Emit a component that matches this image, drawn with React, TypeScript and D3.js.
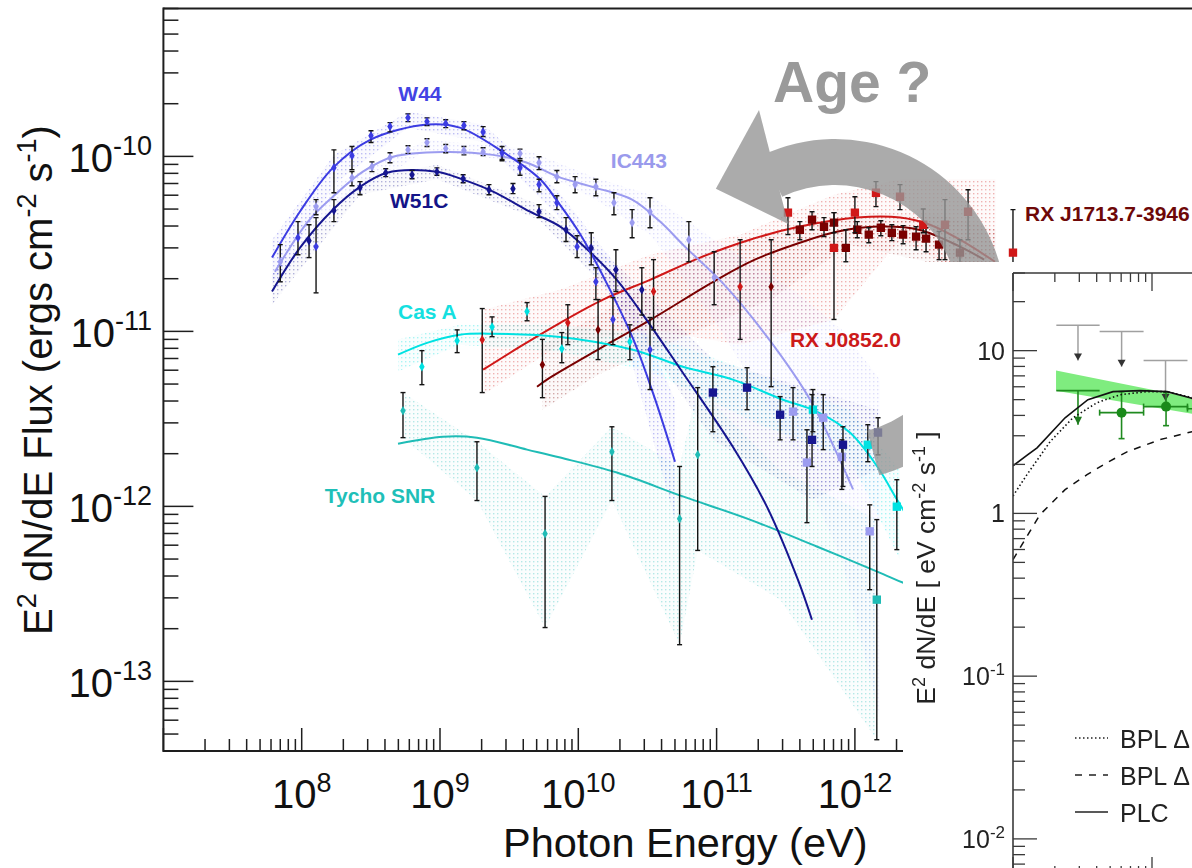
import React from "react";
import * as d3 from "d3";

// ---------- types ----------
type Pt = [number, number, number, number]; // energy (eV), E²dN/dE, lower, upper
type Band = [number, number, number]; // energy, lower, upper
type XY = [number, number];

// ---------- main panel: fitted models ----------
const w44Model: XY[] = [
  [6.1e7, 2.64e-11], [9.7e7, 4.83e-11], [1.68e8, 8.6e-11], [3.1e8, 1.24e-10],
  [8.1e8, 1.52e-10], [1.39e9, 1.46e-10], [2.85e9, 1.06e-10], [5.3e9, 7.4e-11],
  [7.1e9, 5.5e-11], [1.03e10, 3.6e-11], [1.56e10, 1.97e-11], [2.5e10, 9.0e-12],
  [3.6e10, 4.07e-12], [5.0e10, 1.8e-12],
];
const ic443Model: XY[] = [
  [6.4e7, 2.19e-11], [1.11e8, 4.24e-11], [1.68e8, 5.88e-11], [2.77e8, 8.18e-11],
  [4.57e8, 9.96e-11], [1.05e9, 1.06e-10], [2.42e9, 1.02e-10], [4.26e9, 9.2e-11],
  [7.1e9, 7.66e-11], [1.32e10, 6.63e-11], [2.45e10, 5.66e-11], [3.9e10, 4.24e-11],
  [5.9e10, 3.05e-11], [1.1e11, 1.9e-11], [2.32e11, 9.3e-12], [4.74e11, 4.07e-12],
  [9.7e11, 1.25e-12],
];
const w51cModel: XY[] = [
  [6.1e7, 1.69e-11], [9.7e7, 3.0e-11], [1.68e8, 4.96e-11], [2.64e8, 6.7e-11],
  [4.14e8, 8.07e-11], [9.5e8, 8.18e-11], [1.47e9, 7.36e-11], [2.42e9, 6.29e-11],
  [4.48e9, 4.83e-11], [7.4e9, 3.97e-11], [1.21e10, 2.85e-11], [1.9e10, 1.97e-11],
  [3.3e10, 1.09e-11], [5.7e10, 5.8e-12], [1.31e11, 2.19e-12], [2.31e11, 9.96e-13],
  [3.87e11, 3.81e-13], [4.89e11, 2.25e-13],
];
const casAModel: XY[] = [
  [4.97e8, 7.36e-12], [8.05e8, 8.6e-12], [1.39e9, 9.57e-12], [2.42e9, 9.7e-12],
  [7.4e9, 9.3e-12], [2.48e10, 7.86e-12], [5.7e10, 6.28e-12], [1.31e11, 5.3e-12],
  [3.02e11, 4.07e-12], [5.3e11, 3.48e-12], [9.2e11, 2.64e-12], [1.45e12, 1.69e-12],
  [2.02e12, 1.09e-12], [2.72e12, 7.4e-13],
];
const tychoModel: XY[] = [
  [4.97e8, 2.28e-12], [1.05e9, 2.5e-12], [1.85e9, 2.47e-12], [4.26e9, 2.11e-12],
  [7.4e9, 1.9e-12], [1.9e10, 1.56e-12], [5.7e10, 1.14e-12], [1.74e11, 8.4e-13],
  [5.3e11, 5.9e-13], [1.6e12, 4.1e-13], [2.24e12, 3.66e-13], [3.5e12, 3.3e-13],
];
const rxj0852Model: XY[] = [
  [2.05e9, 6.04e-12], [3.79e9, 8.18e-12], [7.4e9, 1.12e-11], [1.51e10, 1.52e-11],
  [3.3e10, 1.97e-11], [7.6e10, 2.64e-11], [1.74e11, 3.34e-11], [4.0e11, 3.97e-11],
  [1.04e12, 4.47e-11], [2.12e12, 4.47e-11], [3.49e12, 4.07e-11], [5.75e12, 3.34e-11],
  [1.03e13, 2.5e-11],
];
const rxj1713Model: XY[] = [
  [5.03e9, 4.83e-12], [6.24e9, 5.44e-12], [1.44e10, 8.0e-12], [3.3e10, 1.16e-11],
  [1.0e11, 1.97e-11], [1.89e11, 2.57e-11], [4.0e11, 3.21e-11], [7.4e11, 3.71e-11],
  [1.47e12, 3.97e-11], [2.9e12, 3.81e-11], [5.75e12, 3.05e-11], [8.6e12, 2.57e-11],
];

// ---------- main panel: uncertainty bands ----------
const w44Band: Band[] = [
  [6.1e7, 1.85e-11, 3.34e-11], [1.71e8, 6.9e-11, 1.02e-10], [5.87e8, 1.46e-10, 1.8e-10],
  [2.05e9, 1.21e-10, 1.52e-10], [7.0e9, 4.64e-11, 6.45e-11], [1.87e10, 1.42e-11, 2.4e-11],
  [5.0e10, 8.4e-13, 4.07e-12],
];
const ic443Band: Band[] = [
  [6.4e7, 1.73e-11, 2.74e-11], [1.71e8, 4.96e-11, 6.9e-11], [8.05e8, 1.09e-10, 1.24e-10],
  [3.79e9, 9.3e-11, 1.12e-10], [1.34e10, 5.66e-11, 7.55e-11], [3.3e10, 3.57e-11, 6.04e-11],
  [9.6e10, 1.17e-11, 3.34e-11], [3.57e11, 2.11e-12, 1.73e-11], [8.05e11, 4.96e-13, 1.02e-11],
  [1.52e12, 6.0e-14, 5.3e-12],
];
const w51cBand: Band[] = [
  [6.1e7, 1.42e-11, 2.11e-11], [2.64e8, 6.04e-11, 7.4e-11], [9.5e8, 7.4e-11, 8.97e-11],
  [5.2e9, 4.35e-11, 5.3e-11], [1.9e10, 1.52e-11, 2.4e-11], [9.4e10, 2.4e-12, 6.9e-12],
  [4.9e11, 1.09e-12, 4.65e-12], [1.47e12, 1.62e-12, 3.57e-12],
];
const casABand: Band[] = [
  [4.97e8, 5.9e-12, 9.0e-12], [1.39e9, 8.4e-12, 1.09e-11], [7.4e9, 7.66e-12, 1.09e-11],
  [3.3e10, 5.9e-12, 9.57e-12], [2.06e11, 2.93e-12, 5.66e-12], [9.2e11, 1.85e-12, 3.57e-12],
  [2.12e12, 4.96e-13, 1.62e-12],
];
const tychoBand: Band[] = [
  [5.4e8, 2.47e-12, 4.47e-12], [1.85e9, 1.08e-12, 2.34e-12], [5.75e9, 2.03e-13, 1.14e-12],
  [1.75e10, 1.08e-12, 2.85e-12], [5.4e10, 1.62e-13, 1.69e-12], [7.3e10, 5.6e-13, 4.77e-12],
  [2.88e11, 2.93e-13, 1.62e-12], [1.44e12, 4.64e-14, 8.4e-13],
];
const rxj0852Band: Band[] = [
  [2.05e9, 4.35e-12, 1.33e-11], [7.4e9, 8.4e-12, 1.73e-11], [3.3e10, 1.02e-11, 2.74e-11],
  [1.48e11, 8.4e-12, 3.57e-11], [7.06e11, 1.17e-11, 6.04e-11], [2.12e12, 3.34e-11, 7.4e-11],
  [1.04e13, 1.73e-11, 7.4e-11],
];
const rxj1713Band: Band[] = [
  [5.5e9, 3.57e-12, 8.4e-12], [1.39e10, 5.66e-12, 1.24e-11], [7.6e10, 1.02e-11, 2.74e-11],
  [2.48e11, 1.52e-11, 3.72e-11], [9.2e11, 3.13e-11, 4.64e-11], [4.1e12, 2.4e-11, 4.64e-11],
  [1.04e13, 1.52e-11, 3.81e-11],
];

// ---------- main panel: Fermi-LAT points ----------
const w44Points: Pt[] = [
  [9.4e7, 3.43e-11, 2.74e-11, 4.24e-11], [1.27e8, 3.05e-11, 1.66e-11, 4.47e-11],
  [1.71e8, 8.6e-11, 6.2e-11, 1.09e-10], [2.31e8, 1.01e-10, 8.4e-11, 1.14e-10],
  [3.17e8, 1.31e-10, 1.2e-10, 1.4e-10], [4.35e8, 1.48e-10, 1.38e-10, 1.56e-10],
  [5.87e8, 1.66e-10, 1.58e-10, 1.75e-10], [8.05e8, 1.58e-10, 1.5e-10, 1.66e-10],
  [1.1e9, 1.54e-10, 1.46e-10, 1.62e-10], [1.49e9, 1.5e-10, 1.42e-10, 1.58e-10],
  [2.05e9, 1.38e-10, 1.3e-10, 1.48e-10], [2.81e9, 1.05e-10, 9.6e-11, 1.14e-10],
  [3.79e9, 8.6e-11, 7.8e-11, 9.45e-11], [5.2e9, 6.9e-11, 6.28e-11, 7.4e-11],
  [7.0e9, 5.43e-11, 4.96e-11, 5.96e-11], [9.8e9, 3.05e-11, 2.64e-11, 3.52e-11],
  [1.34e10, 1.92e-11, 1.52e-11, 2.31e-11], [1.78e10, 1.17e-11, 8.4e-12, 1.56e-11],
  [3.3e10, 7.86e-12, 4.65e-12, 1.2e-11],
];
const ic443Points: Pt[] = [
  [7.0e7, 2.5e-11, 1.92e-11, 3.13e-11], [1.27e8, 5.16e-11, 4.64e-11, 5.66e-11],
  [2.31e8, 7.55e-11, 6.8e-11, 8.2e-11], [3.22e8, 8.73e-11, 8.18e-11, 9.3e-11],
  [4.35e8, 9.83e-11, 9.2e-11, 1.05e-10], [5.87e8, 1.09e-10, 1.04e-10, 1.15e-10],
  [8.05e8, 1.2e-10, 1.14e-10, 1.26e-10], [1.1e9, 1.11e-10, 1.05e-10, 1.17e-10],
  [1.49e9, 1.08e-10, 1.02e-10, 1.14e-10], [2.05e9, 1.06e-10, 1.01e-10, 1.12e-10],
  [2.81e9, 1.01e-10, 9.45e-11, 1.08e-10], [3.79e9, 1.04e-10, 9.7e-11, 1.1e-10],
  [5.2e9, 9.2e-11, 8.4e-11, 9.96e-11], [7.0e9, 7.66e-11, 7.07e-11, 8.3e-11],
  [9.48e9, 6.9e-11, 6.2e-11, 7.66e-11], [1.34e10, 6.7e-11, 5.96e-11, 7.4e-11],
  [1.81e10, 5.43e-11, 4.64e-11, 6.2e-11], [2.45e10, 4.18e-11, 3.43e-11, 4.96e-11],
  [3.3e10, 4.83e-11, 3.91e-11, 5.8e-11], [6.3e10, 3.34e-11, 2.5e-11, 4.24e-11],
  [9.6e10, 2.03e-11, 1.42e-11, 2.85e-11],
];
const w51cPoints: Pt[] = [
  [1.13e8, 3.3e-11, 2.64e-11, 4.07e-11], [1.71e8, 4.9e-11, 4.24e-11, 5.66e-11],
  [2.64e8, 6.63e-11, 6.04e-11, 7.17e-11], [4.05e8, 8.07e-11, 7.66e-11, 8.5e-11],
  [6.28e8, 7.86e-11, 7.45e-11, 8.3e-11], [9.5e8, 8.18e-11, 7.8e-11, 8.6e-11],
  [1.47e9, 7.46e-11, 7.07e-11, 7.86e-11], [2.26e9, 6.45e-11, 6.04e-11, 6.9e-11],
  [3.37e9, 6.54e-11, 6.13e-11, 7.0e-11], [5.2e9, 4.83e-11, 4.47e-11, 5.3e-11],
  [8.15e9, 3.81e-11, 3.26e-11, 4.47e-11], [1.24e10, 3.0e-11, 2.4e-11, 3.66e-11],
  [1.87e10, 2.25e-11, 1.69e-11, 2.93e-11], [2.88e10, 1.73e-11, 1.24e-11, 2.31e-11],
];
const casAPoints: Pt[] = [
  [7.4e8, 6.28e-12, 4.96e-12, 7.76e-12], [1.33e9, 8.85e-12, 7.56e-12, 1.02e-11],
  [2.38e9, 1.06e-11, 9.33e-12, 1.21e-11], [4.26e9, 1.3e-11, 1.15e-11, 1.46e-11],
  [7.6e9, 7.96e-12, 6.62e-12, 9.84e-12], [2.36e10, 8.73e-12, 6.89e-12, 1.09e-11],
];
const tychoPoints: Pt[] = [
  [5.4e8, 3.52e-12, 2.47e-12, 4.47e-12], [1.85e9, 1.66e-12, 1.08e-12, 2.34e-12],
  [5.75e9, 6.98e-13, 2.03e-13, 1.14e-12], [1.75e10, 2.05e-12, 1.08e-12, 2.85e-12],
  [5.4e10, 8.5e-13, 1.62e-13, 1.69e-12], [7.3e10, 1.97e-12, 5.6e-13, 4.77e-12],
];
const rxj0852Points: Pt[] = [
  [2.02e9, 8.97e-12, 4.47e-12, 1.35e-11], [8.4e9, 1.12e-11, 8.4e-12, 1.42e-11],
  [3.5e10, 1.69e-11, 1.02e-11, 2.57e-11], [1.48e11, 1.8e-11, 9.0e-12, 3.34e-11],
];
const rxj1713Points: Pt[] = [
  [5.5e9, 6.45e-12, 4.18e-12, 9.0e-12], [1.39e10, 1.02e-11, 6.9e-12, 1.52e-11],
  [2.48e11, 1.8e-11, 4.83e-12, 3.34e-11],
];

// ---------- main panel: Cherenkov telescope points ----------
const ic443Iact: Pt[] = [
  [3.57e11, 3.48e-12, 2.4e-12, 4.77e-12], [4.5e11, 1.78e-12, 8.07e-13, 2.74e-12],
  [5.9e11, 3.21e-12, 2.11e-12, 4.35e-12], [8.05e11, 1.92e-12, 1.25e-12, 2.4e-12],
  [1.28e12, 7.2e-13, 3.34e-13, 1.02e-12],
];
const w51cIact: Pt[] = [
  [9.4e10, 4.47e-12, 2.67e-12, 6.28e-12], [1.66e11, 4.77e-12, 3.57e-12, 6.2e-12],
  [2.88e11, 3.34e-12, 2.4e-12, 4.24e-12], [4.9e11, 2.4e-12, 1.69e-12, 4.35e-12],
  [8.2e11, 2.25e-12, 1.3e-12, 2.85e-12], [1.47e12, 2.64e-12, 1.97e-12, 3.21e-12],
];
const casAIact: Pt[] = [
  [4.97e11, 3.57e-12, 2.67e-12, 4.65e-12], [1.24e12, 2.25e-12, 1.8e-12, 2.93e-12],
  [2.01e12, 9.96e-13, 5.66e-13, 1.42e-12],
];
const tychoIact: Pt[] = [[1.44e12, 2.93e-13, 4.64e-14, 8.4e-13]];
const rxj0852Iact: Pt[] = [
  [3.28e11, 4.77e-11, 3.57e-11, 5.8e-11], [7.06e11, 3.0e-11, 1.17e-11, 4.77e-11],
  [1.0e12, 4.77e-11, 3.66e-11, 5.88e-11], [1.42e12, 6.2e-11, 5.16e-11, 7.17e-11],
  [2.12e12, 5.88e-11, 4.96e-11, 6.9e-11], [3.12e12, 4.07e-11, 3.66e-11, 5.0e-11],
  [4.48e12, 4.07e-11, 2.57e-11, 5.66e-11], [6.58e12, 4.83e-11, 3.34e-11, 6.45e-11],
  [1.39e13, 2.82e-11, 1.52e-11, 4.96e-11],
];
const rxj1713Iact: Pt[] = [
  [4.0e11, 3.81e-11, 3.34e-11, 4.24e-11], [4.9e11, 4.35e-11, 3.81e-11, 4.83e-11],
  [5.98e11, 3.96e-11, 3.48e-11, 4.47e-11], [7.06e11, 4.18e-11, 3.66e-11, 4.77e-11],
  [8.6e11, 3.0e-11, 2.5e-11, 3.81e-11], [1.04e12, 3.81e-11, 3.43e-11, 4.24e-11],
  [1.26e12, 3.57e-11, 3.21e-11, 3.91e-11], [1.54e12, 3.91e-11, 3.52e-11, 4.29e-11],
  [1.85e12, 3.66e-11, 3.3e-11, 4.07e-11], [2.23e12, 3.57e-11, 3.17e-11, 4.02e-11],
  [2.77e12, 3.48e-11, 2.93e-11, 3.96e-11], [3.27e12, 3.39e-11, 2.85e-11, 3.91e-11],
  [4.06e12, 3.13e-11, 2.57e-11, 3.72e-11], [5.75e12, 2.82e-11, 2.31e-11, 3.34e-11],
];

// ---------- main panel: axes ----------
const xMajorExp = [8, 9, 10, 11, 12];
const yMajorExp = [-10, -11, -12, -13];

// ---------- inset: Fermi points, limits and models ----------
const insetBand: Band[] = [[204, 5.68, 7.54], [1941, 4.1, 5.14], [5070, 3.55, 4.33]];
const insetGrayLimits: [number, number, number, number][] = [
  // E low, E high, limit, arrow tip
  [205, 420, 14.3, 8.7], [420, 870, 13.1, 7.97], [870, 1800, 8.7, 4.9],
];
const insetGreenLimit: [number, number, number, number] = [205, 420, 5.68, 3.5];
const insetGreenPoints: [number, number, number, number, number, number][] = [
  // E, E low, E high, value, lower, upper
  [604, 420, 870, 4.16, 2.88, 5.6],
  [1262, 870, 1800, 4.53, 3.46, 5.52],
  [2600, 1800, 3800, 4.4, 3.6, 5.3],
];
const plcModel: XY[] = [
  [100, 1.96], [149, 2.53], [237, 3.87], [346, 5.0], [524, 5.6], [820, 5.68],
  [1282, 5.6], [1875, 5.14], [5070, 3.76],
];
const bplSoftModel: XY[] = [
  [100, 1.28], [126, 1.73], [185, 2.76], [270, 3.87], [402, 4.79], [589, 5.36],
  [921, 5.6], [1282, 5.6], [1941, 5.14], [5070, 4.04],
];
const bplHardModel: XY[] = [
  [100, 0.52], [156, 0.98], [237, 1.4], [341, 1.73], [474, 2.05], [661, 2.39],
  [1143, 2.84], [1941, 3.18], [5070, 3.76],
];
const insetYLabels: [number, string, string][] = [[10, "10", ""], [1, "1", ""], [0.1, "10", "-1"], [0.01, "10", "-2"]];
const legendRows: [string, string][] = [["1.5 2.5", "BPL Δ"], ["7 7", "BPL Δ"], ["", "PLC"]];

// ---------- series table ----------
const series = [
  { key: "rxj1713", name: "RX J1713.7-3946", color: "#7a0000", text: "#6e0808", model: rxj1713Model, band: rxj1713Band, points: rxj1713Points, iact: rxj1713Iact, label: [1.7e13, 4.3e-11] },
  { key: "rxj0852", name: "RX J0852.0", color: "#d01818", text: "#cc1a1a", model: rxj0852Model, band: rxj0852Band, points: rxj0852Points, iact: rxj0852Iact, label: [3.39e11, 8.18e-12] },
  { key: "tycho", name: "Tycho SNR", color: "#1fbcb6", text: "#1fbfb8", model: tychoModel, band: tychoBand, points: tychoPoints, iact: tychoIact, label: [1.47e8, 1.05e-12] },
  { key: "casa", name: "Cas A", color: "#00e2e2", text: "#14e0e0", model: casAModel, band: casABand, points: casAPoints, iact: casAIact, label: [4.97e8, 1.17e-11] },
  { key: "ic443", name: "IC443", color: "#9c9cf0", text: "#9a9aec", model: ic443Model, band: ic443Band, points: ic443Points, iact: ic443Iact, label: [1.72e10, 8.6e-11] },
  { key: "w51c", name: "W51C", color: "#161690", text: "#141488", model: w51cModel, band: w51cBand, points: w51cPoints, iact: w51cIact, label: [4.35e8, 5.09e-11] },
  { key: "w44", name: "W44", color: "#3c3ce2", text: "#4343e4", model: w44Model, band: w44Band, points: w44Points, iact: [] as Pt[], label: [5.0e8, 2.06e-10] },
];

const FONT = "'Liberation Sans', Arial, Helvetica, sans-serif";
const W = 1192;
const H = 868;

// main frame geometry
const M = { left: 163.4, top: 8.5, bottom: 751, decade: 138.3 };
const xMain = d3.scaleLog().domain([1e7, 1e15]).range([M.left, M.left + 8 * M.decade]);
const yMain = d3.scaleLog().domain([4e-14, 7e-10]).range([M.bottom, M.top]);

// inset geometry
const I = { left: 1013, top: 273, bottom: 875, decade: 139 };
const xIn = d3.scaleLog().domain([100, 1e5]).range([I.left, I.left + 3 * I.decade]);
const yIn = d3.scaleLog().domain([0.006, 30]).range([I.bottom, I.top]);

const modelLine = d3
  .line<XY>()
  .x((d) => xMain(d[0]))
  .y((d) => yMain(d[1]))
  .curve(d3.curveCatmullRom.alpha(0.5));
const bandArea = d3
  .area<Band>()
  .x((d) => xMain(d[0]))
  .y0((d) => yMain(d[1]))
  .y1((d) => yMain(d[2]));
const insetLine = d3
  .line<XY>()
  .x((d) => xIn(d[0]))
  .y((d) => yIn(d[1]));
const insetArea = d3
  .area<Band>()
  .x((d) => xIn(d[0]))
  .y0((d) => yIn(d[1]))
  .y1((d) => yIn(d[2]));

const diamond = d3.symbol(d3.symbolDiamond, 26)()!;
const square = d3.symbol(d3.symbolSquare, 70)()!;

// curved "age" arrow, drawn in page pixels around a fixed pivot
const ARROW = { cx: 835, cy: 310, r0: 125, r1: 171, start: -115, end: 75 };
const polar = (r: number, deg: number): [number, number] => [
  ARROW.cx + r * Math.cos((deg * Math.PI) / 180),
  ARROW.cy + r * Math.sin((deg * Math.PI) / 180),
];
const arrowBody = d3.arc()({
  innerRadius: ARROW.r0,
  outerRadius: ARROW.r1,
  startAngle: ((ARROW.start + 90) * Math.PI) / 180,
  endAngle: ((ARROW.end + 90) * Math.PI) / 180,
} as any)!;
const headPts = [polar(214, -110.8), polar(170, -134.5), polar(98, -118.5)];

function ErrorBars({ pts, x, y }: { pts: Pt[]; x: (v: number) => number; y: (v: number) => number }) {
  return (
    <g stroke="#141414" strokeWidth={1.4}>
      {pts.map((p, i) => {
        const cx = x(p[0]);
        return (
          <g key={i}>
            <line x1={cx} x2={cx} y1={y(p[2])} y2={y(p[3])} />
            <line x1={cx - 2.5} x2={cx + 2.5} y1={y(p[2])} y2={y(p[2])} />
            <line x1={cx - 2.5} x2={cx + 2.5} y1={y(p[3])} y2={y(p[3])} />
          </g>
        );
      })}
    </g>
  );
}

export default function App() {
  const yTicks = yMain.ticks();
  const xTicks = xMain.ticks().filter((v) => v <= 2.2e12);
  const inYTicks = yIn.ticks();
  const inXTicks = xIn.ticks();

  return (
    <svg
      width={W}
      height={H}
      viewBox={`0 0 ${W} ${H}`}
      style={{ position: "absolute", left: 0, top: 0, background: "#fff" }}
      fontFamily={FONT}
    >
      <defs>
        <clipPath id="mainClip">
          <rect x={M.left} y={M.top} width={W - M.left} height={M.bottom - M.top} />
        </clipPath>
        <clipPath id="insetClip">
          <rect x={I.left} y={I.top} width={W - I.left} height={I.bottom - I.top} />
        </clipPath>
        {series.map((s) => (
          <pattern key={s.key} id={`dots-${s.key}`} width={4} height={4} patternUnits="userSpaceOnUse">
            <rect x={1} y={1} width={1.4} height={1.4} fill={s.color} opacity={0.32} />
          </pattern>
        ))}
      </defs>
      <rect x={0} y={0} width={W} height={H} fill="#fff" />

      {/* ---------- main panel ---------- */}
      <g clipPath="url(#mainClip)">
        {series.map((s) => (
          <g key={`band-${s.key}`}>
            <path d={bandArea(s.band)!} fill={s.color} opacity={0.025} />
            <path d={bandArea(s.band)!} fill={`url(#dots-${s.key})`} />
          </g>
        ))}
        {series.map((s) => (
          <path key={`model-${s.key}`} d={modelLine(s.model)!} fill="none" stroke={s.color} strokeWidth={2} />
        ))}
        {series.map((s) => (
          <g key={`pts-${s.key}`}>
            <ErrorBars pts={s.points} x={xMain} y={yMain} />
            <ErrorBars pts={s.iact} x={xMain} y={yMain} />
            {s.points.map((p, i) => (
              <path key={i} d={diamond} transform={`translate(${xMain(p[0])},${yMain(p[1])})`} fill={s.color} />
            ))}
            {s.iact.map((p, i) => (
              <path key={i} d={square} transform={`translate(${xMain(p[0])},${yMain(p[1])})`} fill={s.color} />
            ))}
          </g>
        ))}
        {series.map((s) => (
          <text
            key={`label-${s.key}`}
            x={xMain(s.label[0])}
            y={yMain(s.label[1])}
            fill={s.text}
            fontSize={21}
            fontWeight="bold"
          >
            {s.name}
          </text>
        ))}
      </g>

      {/* axes of the main panel */}
      <g stroke="#1e1e1e" fill="none">
        <line x1={M.left} x2={W} y1={M.top} y2={M.top} strokeWidth={2} />
        <line x1={M.left} x2={M.left} y1={M.top - 1} y2={M.bottom + 1} strokeWidth={2} />
        <line x1={M.left} x2={W} y1={M.bottom} y2={M.bottom} strokeWidth={2} />
        {yTicks.map((v, i) => {
          const major = Math.abs(Math.log10(v) - Math.round(Math.log10(v))) < 1e-6;
          return <line key={i} x1={M.left} x2={M.left + (major ? 30 : 15)} y1={yMain(v)} y2={yMain(v)} strokeWidth={1.5} />;
        })}
        {xTicks.map((v, i) => {
          const major = Math.abs(Math.log10(v) - Math.round(Math.log10(v))) < 1e-6;
          return <line key={i} x1={xMain(v)} x2={xMain(v)} y1={M.bottom} y2={M.bottom - (major ? 23 : 12)} strokeWidth={1.5} />;
        })}
      </g>
      <g fill="#111">
        {xMajorExp.map((p) => (
          <text key={p} x={xMain(10 ** p)} y={808} textAnchor="middle" fontSize={40}>
            10<tspan dy={-16} fontSize={27}>{p}</tspan>
          </text>
        ))}
        {yMajorExp.map((p) => (
          <text key={p} x={152} y={yMain(10 ** p) + 16} textAnchor="end" fontSize={40}>
            10<tspan dy={-17} fontSize={27}>{p}</tspan>
          </text>
        ))}
        <text x={503} y={857} fontSize={41.5}>Photon Energy (eV)</text>
        <text transform={`translate(52,380) rotate(-90)`} textAnchor="middle" fontSize={40}>
          E<tspan dy={-16} fontSize={27}>2</tspan>
          <tspan dy={16}> dN/dE Flux (ergs cm</tspan>
          <tspan dy={-16} fontSize={27}>-2</tspan>
          <tspan dy={16}> s</tspan>
          <tspan dy={-16} fontSize={27}>-1</tspan>
          <tspan dy={16}>)</tspan>
        </text>
      </g>

      {/* curved arrow and caption */}
      <g opacity={0.8} fill="#979797">
        <path d={arrowBody} transform={`translate(${ARROW.cx},${ARROW.cy})`} />
        <polygon points={headPts.map((p) => p.join(",")).join(" ")} />
      </g>
      <text x={773} y={102} fontSize={57} fontWeight="bold" fill="#9a9a9a">
        Age ?
      </text>

      {/* ---------- inset panel ---------- */}
      <rect x={903} y={262} width={W - 903} height={H - 262} fill="#fff" />
      <g clipPath="url(#insetClip)">
        <path d={insetArea(insetBand)!} fill="#7fec7f" />
        {insetGrayLimits.map((u, i) => {
          const cx = Math.sqrt(u[0] * u[1]);
          return (
            <g key={i}>
              <g stroke="#a0a0a0" strokeWidth={1.5}>
                <line x1={xIn(u[0])} x2={xIn(u[1])} y1={yIn(u[2])} y2={yIn(u[2])} />
                <line x1={xIn(cx)} x2={xIn(cx)} y1={yIn(u[2])} y2={yIn(u[3])} />
              </g>
              <polygon
                points={`${xIn(cx) - 4},${yIn(u[3]) - 7} ${xIn(cx) + 4},${yIn(u[3]) - 7} ${xIn(cx)},${yIn(u[3])}`}
                fill="#333"
              />
            </g>
          );
        })}
        <g stroke="#1f8a1f" strokeWidth={1.6}>
          {(() => {
            const u = insetGreenLimit;
            const cx = Math.sqrt(u[0] * u[1]);
            return (
              <g>
                <line x1={xIn(u[0])} x2={xIn(u[1])} y1={yIn(u[2])} y2={yIn(u[2])} />
                <line x1={xIn(cx)} x2={xIn(cx)} y1={yIn(u[2])} y2={yIn(u[3])} />
                <polygon
                  points={`${xIn(cx) - 4},${yIn(u[3]) - 8} ${xIn(cx) + 4},${yIn(u[3]) - 8} ${xIn(cx)},${yIn(u[3])}`}
                  fill="#1f7a1f"
                  stroke="none"
                />
              </g>
            );
          })()}
          {insetGreenPoints.map((p, i) => (
            <g key={i}>
              <line x1={xIn(p[1])} x2={xIn(p[2])} y1={yIn(p[3])} y2={yIn(p[3])} />
              <line x1={xIn(p[1])} x2={xIn(p[1])} y1={yIn(p[3]) - 3} y2={yIn(p[3]) + 3} />
              <line x1={xIn(p[2])} x2={xIn(p[2])} y1={yIn(p[3]) - 3} y2={yIn(p[3]) + 3} />
              <line x1={xIn(p[0])} x2={xIn(p[0])} y1={yIn(p[4])} y2={yIn(p[5])} />
              <line x1={xIn(p[0]) - 3} x2={xIn(p[0]) + 3} y1={yIn(p[4])} y2={yIn(p[4])} />
              <line x1={xIn(p[0]) - 3} x2={xIn(p[0]) + 3} y1={yIn(p[5])} y2={yIn(p[5])} />
              <circle cx={xIn(p[0])} cy={yIn(p[3])} r={5} fill="#1a8a1a" stroke="none" />
            </g>
          ))}
        </g>
        <g fill="none" stroke="#111">
          <path d={insetLine(plcModel)!} strokeWidth={1.6} />
          <path d={insetLine(bplSoftModel)!} strokeWidth={1.6} strokeDasharray="1.5 2.5" />
          <path d={insetLine(bplHardModel)!} strokeWidth={1.5} strokeDasharray="7 7" />
        </g>
      </g>
      {/* inset axes */}
      <g stroke="#3a3a3a" fill="none">
        <line x1={I.left} x2={W} y1={I.top} y2={I.top} strokeWidth={1.6} />
        <line x1={I.left} x2={I.left} y1={I.top} y2={H} strokeWidth={1.6} />
        {inYTicks.map((v, i) => {
          const major = Math.abs(Math.log10(v) - Math.round(Math.log10(v))) < 1e-6;
          return <line key={i} x1={I.left} x2={I.left + (major ? 24 : 12)} y1={yIn(v)} y2={yIn(v)} strokeWidth={1.3} />;
        })}
        {inXTicks.map((v, i) => {
          const major = Math.abs(Math.log10(v) - Math.round(Math.log10(v))) < 1e-6;
          const len = major ? 18 : 9;
          return (
            <g key={i} strokeWidth={1.3}>
              <line x1={xIn(v)} x2={xIn(v)} y1={I.top} y2={I.top + len} />
              <line x1={xIn(v)} x2={xIn(v)} y1={I.bottom} y2={I.bottom - len} />
            </g>
          );
        })}
      </g>
      <g fill="#222">
        {insetYLabels.map(([v, base, sup]) => (
          <text key={v} x={1005} y={yIn(v) + 9} textAnchor="end" fontSize={25}>
            {base}
            {sup && (
              <tspan dy={-10} fontSize={17}>
                {sup}
              </tspan>
            )}
          </text>
        ))}
        <text transform={`translate(935,568) rotate(-90)`} textAnchor="middle" fontSize={26.5}>
          E<tspan dy={-10} fontSize={18}>2</tspan>
          <tspan dy={10}> dN/dE [ eV cm</tspan>
          <tspan dy={-10} fontSize={18}>-2</tspan>
          <tspan dy={10}> s</tspan>
          <tspan dy={-10} fontSize={18}>-1</tspan>
          <tspan dy={10}> ]</tspan>
        </text>
        {legendRows.map(([dash, label], i) => (
          <g key={i}>
            <line
              x1={1075}
              x2={1108}
              y1={738 + i * 37}
              y2={738 + i * 37}
              stroke="#222"
              strokeWidth={1.4}
              strokeDasharray={dash || undefined}
            />
            <text x={1120} y={748 + i * 37} fontSize={25}>
              {label}
            </text>
          </g>
        ))}
      </g>
    </svg>
  );
}
